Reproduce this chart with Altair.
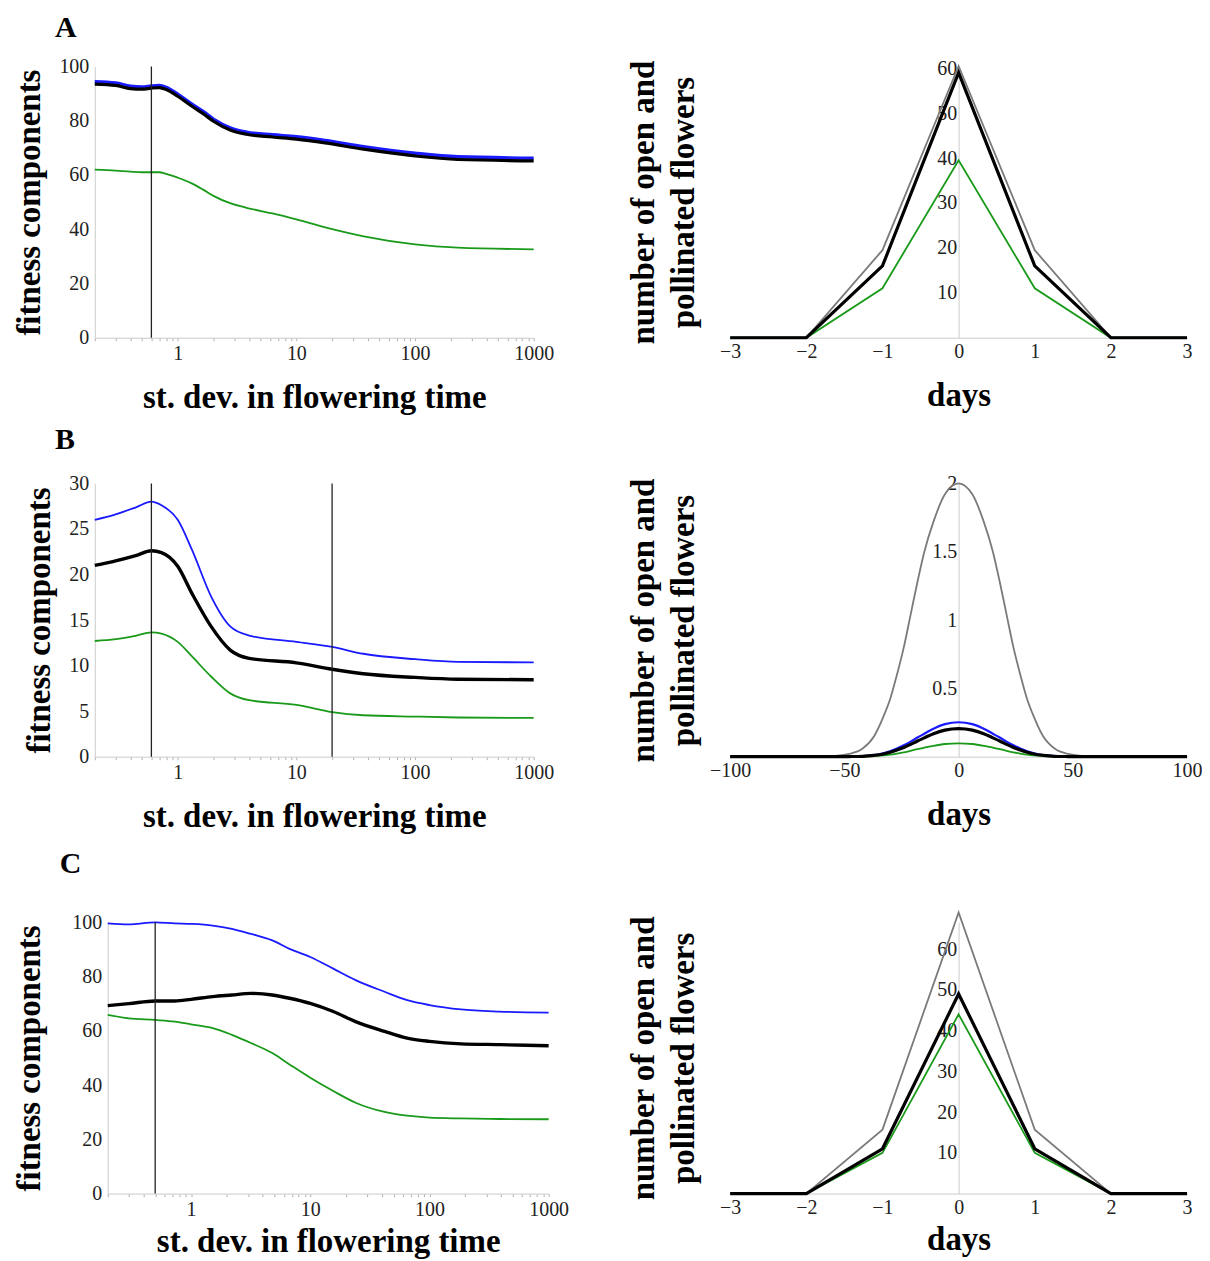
import altair as alt
import pandas as pd

FONT = "Liberation Serif"
COL = {"grey": "#7a7a7a", "blue": "#1a1aff", "green": "#1a9a1a", "black": "#000000"}

# ---------------- Panel A (left): fitness components vs st. dev. ----------------
A_sd = [0.2, 0.3, 0.4, 0.5, 0.6, 0.7, 0.8, 1.0, 1.3, 1.65, 2.0, 2.8, 3.8, 6.3, 10, 17.5, 37, 100, 230, 1000]
A_blue = [94.4, 93.9, 92.7, 92.4, 92.8, 93.0, 92.3, 89.8, 86.3, 83.3, 80.6, 77.3, 75.8, 74.8, 74.1, 72.7, 70.4, 68.0, 66.7, 66.2]
A_black = [93.5, 93.0, 91.8, 91.6, 92.0, 92.2, 91.5, 89.0, 85.5, 82.5, 79.8, 76.5, 75.0, 74.0, 73.2, 71.8, 69.5, 67.0, 65.7, 65.2]
A_green = [62.0, 61.6, 61.2, 61.0, 61.0, 61.0, 60.4, 59.0, 57.0, 54.5, 52.3, 49.5, 47.9, 45.8, 43.6, 40.7, 37.4, 34.4, 33.2, 32.6]
A_vlines = [0.6]

# ---------------- Panel A (right): flowers vs days ----------------
A_days = [-3, -2, -1, 0, 1, 2, 3]
A_r_grey = [0, 0, 19.5, 60.5, 19.5, 0, 0]
A_r_black = [0, 0, 16, 59, 16, 0, 0]
A_r_green = [0, 0, 11, 39.5, 11, 0, 0]

# ---------------- Panel B (left) ----------------
B_sd = [0.2, 0.3, 0.45, 0.6, 0.73, 1.0, 1.32, 1.91, 2.77, 4.0, 10, 20, 36.6, 100, 230, 1000]
B_blue = [26.0, 26.6, 27.4, 28.0, 27.6, 26.0, 22.7, 17.6, 14.3, 13.3, 12.6, 12.05, 11.3, 10.7, 10.4, 10.35]
B_black = [21.0, 21.5, 22.1, 22.6, 22.4, 20.9, 17.9, 14.3, 11.7, 10.8, 10.3, 9.6, 9.1, 8.7, 8.5, 8.45]
B_green = [12.7, 12.9, 13.3, 13.65, 13.5, 12.6, 11.0, 8.8, 6.95, 6.2, 5.7, 4.9, 4.55, 4.4, 4.3, 4.25]
B_vlines = [0.6, 20]

# ---------------- Panel B (right) ----------------
B_days = [-100, -62, -55, -48, -42, -37, -33, -30, -27, -24, -21, -18, -15, -11, -6, 0,
          6, 11, 15, 18, 21, 24, 27, 30, 33, 37, 42, 48, 55, 62, 100]
B_r_grey = [0, 0, 0.005, 0.02, 0.06, 0.15, 0.29, 0.42, 0.60, 0.80, 1.04, 1.28, 1.50, 1.72, 1.92, 2.0,
            1.92, 1.72, 1.50, 1.28, 1.04, 0.80, 0.60, 0.42, 0.29, 0.15, 0.06, 0.02, 0.005, 0, 0]
B_r_blue = [0, 0, 0, 0.001, 0.004, 0.012, 0.025, 0.04, 0.06, 0.083, 0.11, 0.14, 0.168, 0.205, 0.238, 0.252,
            0.238, 0.205, 0.168, 0.14, 0.11, 0.083, 0.06, 0.04, 0.025, 0.012, 0.004, 0.001, 0, 0, 0]
B_r_black = [0, 0, 0, 0.001, 0.003, 0.01, 0.02, 0.033, 0.049, 0.068, 0.09, 0.115, 0.138, 0.168, 0.194, 0.205,
             0.194, 0.168, 0.138, 0.115, 0.09, 0.068, 0.049, 0.033, 0.02, 0.01, 0.003, 0.001, 0, 0, 0]
B_r_green = [0, 0, 0, 0, 0.001, 0.004, 0.009, 0.015, 0.023, 0.032, 0.043, 0.055, 0.066, 0.08, 0.093, 0.098,
             0.093, 0.08, 0.066, 0.055, 0.043, 0.032, 0.023, 0.015, 0.009, 0.004, 0.001, 0, 0, 0, 0]

# ---------------- Panel C (left) ----------------
C_sd = [0.2, 0.3, 0.5, 0.73, 1.0, 1.52, 2.2, 3.18, 4.8, 6.7, 10, 15.6, 24, 42, 65, 100, 184, 385, 1000]
C_blue = [99.6, 99.2, 100, 99.6, 99.4, 98.8, 97.6, 95.7, 93.3, 90.2, 87.2, 82.9, 78.7, 74.4, 71.3, 69.5, 67.9, 67.1, 66.7]
C_black = [69.3, 70.0, 71.0, 71.0, 71.6, 72.6, 73.2, 73.8, 73.2, 72.0, 70.1, 67.1, 63.4, 59.8, 57.3, 56.1, 55.2, 54.9, 54.5]
C_green = [65.9, 64.6, 64.0, 63.4, 62.4, 61.0, 58.5, 55.5, 51.8, 47.6, 42.7, 37.8, 33.5, 30.1, 28.7, 28.0, 27.7, 27.5, 27.4]
C_vlines = [0.5]

# ---------------- Panel C (right) ----------------
C_days = [-3, -2, -1, 0, 1, 2, 3]
C_r_grey = [0, 0, 15.7, 69, 15.7, 0, 0]
C_r_black = [0, 0, 11, 49, 11, 0, 0]
C_r_green = [0, 0, 10, 44, 10, 0, 0]

# tick values / labels
LOG_TICKS = [0.2, 0.3, 0.4, 0.5, 0.6, 0.7, 0.8, 0.9,
             1, 2, 3, 4, 5, 6, 7, 8, 9,
             10, 20, 30, 40, 50, 60, 70, 80, 90,
             100, 200, 300, 400, 500, 600, 700, 800, 900, 1000]
LOG_LABELS = [1, 10, 100, 1000]

LW = 440   # left plot width
RW = 458   # right plot width
H = 272    # plot height


def long_df(x, series):
    rows = []
    for name, ys in series.items():
        for xv, yv in zip(x, ys):
            rows.append({"x": xv, "y": yv, "s": name})
    return pd.DataFrame(rows)


def left_chart(x, series, widths, ymax, ystep, vlines, panel, panel_offset, xtitle_pad,
               shift=0, width=LW, panel_dx=-40, height=H):
    df = long_df(x, series)
    xscale = alt.Scale(type="log", domain=[0.2, 1000], nice=False, range=[shift, shift + width])
    yscale = alt.Scale(domain=[0, ymax], nice=False, zero=True)
    lab_cond = " || ".join(f"datum.value == {v}" for v in LOG_LABELS)
    xaxis = alt.Axis(values=LOG_TICKS, labelExpr=f"({lab_cond}) ? format(datum.value, 'd') : ''",
                     title="st. dev. in flowering time", labelOverlap=False, labelFlush=False,
                     grid=False, tickSize=3, tickColor="#b0b0b0", domainColor="#cccccc",
                     labelFontSize=20, labelPadding=3, titleFontSize=33, titleFontWeight="bold",
                     titlePadding=xtitle_pad)
    yaxis = alt.Axis(values=list(range(0, ymax + 1, ystep)), format="d", title="fitness components",
                     grid=False, ticks=False, domainColor="#cccccc", labelFontSize=20, labelPadding=6,
                     titleFontSize=33, titleFontWeight="bold", titlePadding=12 + shift, offset=-shift)
    layers = []
    for name in ["blue", "green", "black"]:
        layers.append(
            alt.Chart(df[df.s == name]).mark_line(interpolate="monotone", color=COL[name],
                                                  strokeWidth=widths[name])
            .encode(x=alt.X("x:Q", scale=xscale, axis=xaxis),
                    y=alt.Y("y:Q", scale=yscale, axis=yaxis))
        )
    vl = alt.Chart(pd.DataFrame({"v": vlines})).mark_rule(color="#222222", strokeWidth=1.3).encode(
        x=alt.X("v:Q", scale=xscale, axis=xaxis))
    return alt.layer(*layers, vl).properties(
        width=shift + width, height=height,
        title=alt.TitleParams(panel, anchor="start", dx=panel_dx, offset=panel_offset, fontSize=30,
                              font=FONT, fontWeight="bold", frame="group"))


def right_chart(x, series, widths, ydomain, yvals, yfmt, xvals, interp, xtitle_pad, height=H):
    df = long_df(x, series)
    xscale = alt.Scale(domain=[xvals[0], xvals[-1]], nice=False, zero=False)
    yscale = alt.Scale(domain=ydomain, nice=False, zero=True)
    xaxis = alt.Axis(values=xvals, title="days", grid=False, ticks=False, domainColor="#cccccc",
                     labelFontSize=20, labelPadding=4, labelFlush=False, labelOverlap=False,
                     titleFontSize=33, titleFontWeight="bold", titlePadding=xtitle_pad, format="d")
    yaxis = alt.Axis(values=yvals, format=yfmt, offset=-RW / 2, grid=False, ticks=False,
                     domainColor="#cccccc", labelFontSize=20, labelPadding=2,
                     title=["number of open and", "pollinated flowers"], titleX=-RW / 2 - 70,
                     titleY=height / 2, titleAngle=270, titleAlign="center", titleBaseline="bottom",
                     titleLineHeight=40, titleFontSize=33, titleFontWeight="bold")
    layers = []
    for name in ["grey", "blue", "green", "black"]:
        if name not in series:
            continue
        layers.append(
            alt.Chart(df[df.s == name]).mark_line(interpolate=interp, color=COL[name],
                                                  strokeWidth=widths[name])
            .encode(x=alt.X("x:Q", scale=xscale, axis=xaxis),
                    y=alt.Y("y:Q", scale=yscale, axis=yaxis))
        )
    return alt.layer(*layers).properties(width=RW, height=height)


wA = {"blue": 3.4, "black": 3.2, "green": 1.8}
wB = {"blue": 1.8, "black": 3.4, "green": 1.8}
wR = {"grey": 1.8, "blue": 2.2, "black": 3.2, "green": 1.8}

leftA = left_chart(A_sd, {"blue": A_blue, "black": A_black, "green": A_green}, wA, 100, 20, A_vlines, "A", 14, 18)
rightA = right_chart(A_days, {"grey": A_r_grey, "black": A_r_black, "green": A_r_green}, wR,
                     [0, 60.4], [10, 20, 30, 40, 50, 60], "d", [-3, -2, -1, 0, 1, 2, 3], "linear", 18)

leftB = left_chart(B_sd, {"blue": B_blue, "black": B_black, "green": B_green}, wB, 30, 5, B_vlines, "B", 18, 18,
                   height=274)
rightB = right_chart(B_days, {"grey": B_r_grey, "blue": B_r_blue, "black": B_r_black, "green": B_r_green}, wR,
                     [0, 2], [0.5, 1, 1.5, 2], "~g", [-100, -50, 0, 50, 100], "monotone", 18, height=274)

leftC = left_chart(C_sd, {"blue": C_blue, "black": C_black, "green": C_green}, wB, 100, 20, C_vlines, "C", 33, 6,
                   shift=13, width=442, panel_dx=-35)
rightC = right_chart(C_days, {"grey": C_r_grey, "black": C_r_black, "green": C_r_green}, wR,
                     [0, 66.6], [10, 20, 30, 40, 50, 60], "d", [-3, -2, -1, 0, 1, 2, 3], "linear", 6)

rowA = alt.hconcat(leftA, rightA, spacing=197, bounds="flush")
rowB = alt.hconcat(leftB, rightB, spacing=197, bounds="flush")
rowC = alt.hconcat(leftC, rightC, spacing=182, bounds="flush")

chart = alt.vconcat(rowA, alt.vconcat(rowB, rowC, spacing=16), spacing=11).properties(
    padding={"left": 5, "top": 3, "right": 0, "bottom": 0}
).configure_view(stroke=None).configure_axis(
    labelFont=FONT, titleFont=FONT, labelColor="#222222", titleColor="#000000"
).configure_title(font=FONT)

chart.save("out.html", embed_options={"renderer": "svg", "actions": False})
